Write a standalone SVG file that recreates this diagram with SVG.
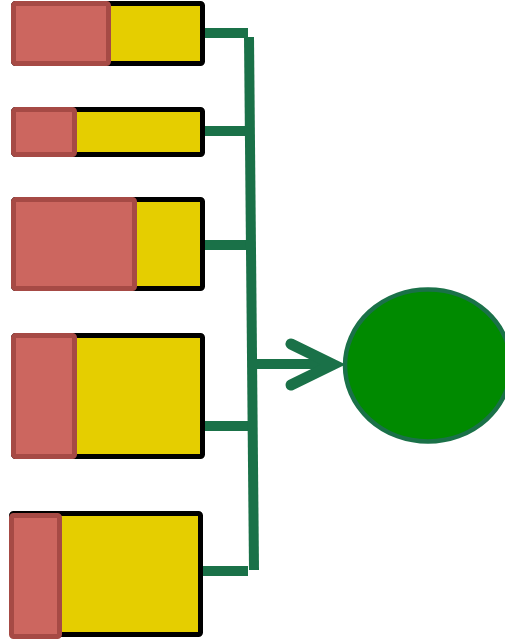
<svg xmlns="http://www.w3.org/2000/svg" width="505" height="640" viewBox="0 0 505 640">
<style>
.outer{fill:#e5ce00;stroke:#000;stroke-width:5;stroke-linejoin:round}
.inner{fill:#cc665f;stroke:#a64a45;stroke-width:5;stroke-linejoin:round}
.conn{fill:none;stroke:#1a7148;stroke-width:10}
.head{fill:none;stroke:#1a7148;stroke-width:11;stroke-linecap:round;stroke-linejoin:miter}
</style>
<g id="connectors">
<line class="conn" x1="203" y1="33" x2="248" y2="33"/>
<line class="conn" x1="203" y1="131" x2="250" y2="131"/>
<line class="conn" x1="203" y1="245" x2="251" y2="245"/>
<line class="conn" x1="203" y1="426" x2="253" y2="426"/>
<line class="conn" x1="201" y1="571" x2="248" y2="571"/>
<line class="conn" x1="249" y1="37" x2="254" y2="570"/>
<line class="conn" x1="252" y1="364" x2="332" y2="364"/>
<polyline class="head" points="291,344 333,364.5 291,385"/>
</g>
<g id="n1"><rect class="outer" x="13.5" y="3.5" width="189" height="60" rx="2"/><rect class="inner" x="13.5" y="3.5" width="95" height="60" rx="2"/></g>
<g id="n2"><rect class="outer" x="13.5" y="109.5" width="189" height="45" rx="2"/><rect class="inner" x="13.5" y="109.5" width="61" height="45" rx="2"/></g>
<g id="n3"><rect class="outer" x="13.5" y="199.5" width="189" height="89" rx="2"/><rect class="inner" x="13.5" y="199.5" width="121" height="89" rx="2"/></g>
<g id="n4"><rect class="outer" x="13.5" y="335.5" width="189" height="121" rx="2"/><rect class="inner" x="13.5" y="335.5" width="61" height="121" rx="2"/></g>
<g id="n5"><rect class="outer" x="11.5" y="513.5" width="189" height="121" rx="2"/><rect class="inner" x="11.5" y="515.5" width="48" height="121" rx="2"/></g>
<g id="target"><ellipse cx="428" cy="365.5" rx="83" ry="76" fill="#008a00" stroke="#1a7148" stroke-width="4.5"/></g>
</svg>
